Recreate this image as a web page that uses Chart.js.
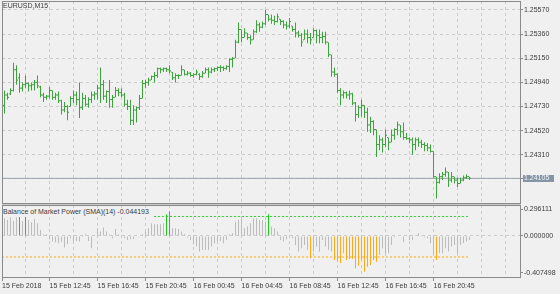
<!DOCTYPE html>
<html lang="en">
<head>
    <meta charset="UTF-8">
    <title>EURUSD,M15</title>
    <script src="https://cdn.jsdelivr.net/npm/chart.js"></script>
    <style>
        body {
            margin: 0;
            width: 560px;
            height: 294px;
            overflow: hidden;
            position: relative;
            background-color: #f0f0f0;
            font-family: "Liberation Sans", Arial, sans-serif;
        }
        canvas {
            position: absolute;
            left: 0;
        }
        #priceChart { top: 0; }
        #bmpChart { top: 204px; }
        .lbl {
            position: absolute;
            font-size: 7px;
            line-height: 8px;
            color: #3c3c3c;
            white-space: nowrap;
        }
        #bmpTitle {
            left: 3px;
            top: 208px;
            height: 8.5px;
            padding-right: 4px;
            background-color: #f0f0f0;
        }
    </style>
</head>
<body>
    <canvas id="priceChart" width="560" height="204"></canvas>
    <canvas id="bmpChart" width="560" height="90"></canvas>
    <div class="lbl" style="left:3px; top:2px;">EURUSD,M15</div>
    <div class="lbl" id="bmpTitle"></div>
    <script>
        // 15분봉 시세 (15 Feb 09:00 부터)
        const highs = [
            1.2487, 1.2485, 1.2489, 1.2511, 1.2509, 1.2502, 1.2494, 1.2500, 1.2494, 1.2494,
            1.2496, 1.2500, 1.2491, 1.2485, 1.2483, 1.2490, 1.2487, 1.2485, 1.2486, 1.2479,
            1.2477, 1.2474, 1.2482, 1.2487, 1.2486, 1.2494, 1.2485, 1.2483, 1.2481, 1.2486,
            1.2486, 1.2492, 1.2507, 1.2496, 1.2487, 1.2496, 1.2483, 1.2490, 1.2489, 1.2489,
            1.2485, 1.2479, 1.2479, 1.2474, 1.2473, 1.2483, 1.2496, 1.2496, 1.2498, 1.2500,
            1.2503, 1.2507, 1.2507, 1.2507, 1.2507, 1.2509, 1.2503, 1.2502, 1.2501, 1.2509,
            1.2505, 1.2504, 1.2503, 1.2502, 1.2505, 1.2502, 1.2504, 1.2507, 1.2507, 1.2507,
            1.2507, 1.2508, 1.2509, 1.2508, 1.2509, 1.2515, 1.2516, 1.2531, 1.2546, 1.2540,
            1.2541, 1.2537, 1.2535, 1.2540, 1.2548, 1.2546, 1.2547, 1.2557, 1.2553, 1.2553,
            1.2552, 1.2554, 1.2549, 1.2548, 1.2547, 1.2550, 1.2543, 1.2546, 1.2539, 1.2537,
            1.2540, 1.2540, 1.2537, 1.2541, 1.2540, 1.2540, 1.2538, 1.2538, 1.2529, 1.2518,
            1.2507, 1.2502, 1.2489, 1.2487, 1.2486, 1.2487, 1.2485, 1.2477, 1.2474, 1.2479,
            1.2474, 1.2472, 1.2464, 1.2461, 1.2453, 1.2448, 1.2446, 1.2453, 1.2446, 1.2453,
            1.2454, 1.2460, 1.2457, 1.2459, 1.2450, 1.2446, 1.2446, 1.2446, 1.2446, 1.2444,
            1.2442, 1.2441, 1.2440, 1.2434, 1.2412, 1.2415, 1.2416, 1.2420, 1.2416, 1.2416,
            1.2412, 1.2411, 1.2411, 1.2413, 1.2414, 1.2412
        ];
        const lows = [
            1.2467, 1.2479, 1.2483, 1.2486, 1.2492, 1.2485, 1.2486, 1.2489, 1.2486, 1.2487,
            1.2487, 1.2489, 1.2481, 1.2477, 1.2479, 1.2480, 1.2479, 1.2479, 1.2476, 1.2466,
            1.2468, 1.2461, 1.2473, 1.2476, 1.2474, 1.2463, 1.2470, 1.2473, 1.2472, 1.2476,
            1.2479, 1.2479, 1.2476, 1.2479, 1.2476, 1.2472, 1.2472, 1.2481, 1.2482, 1.2481,
            1.2473, 1.2470, 1.2457, 1.2457, 1.2459, 1.2470, 1.2480, 1.2489, 1.2491, 1.2496,
            1.2494, 1.2498, 1.2502, 1.2503, 1.2503, 1.2502, 1.2496, 1.2494, 1.2497, 1.2500,
            1.2500, 1.2500, 1.2499, 1.2498, 1.2500, 1.2496, 1.2498, 1.2502, 1.2498, 1.2502,
            1.2503, 1.2504, 1.2503, 1.2504, 1.2505, 1.2503, 1.2507, 1.2515, 1.2528, 1.2529,
            1.2533, 1.2531, 1.2527, 1.2531, 1.2537, 1.2538, 1.2541, 1.2544, 1.2547, 1.2545,
            1.2544, 1.2546, 1.2544, 1.2541, 1.2540, 1.2541, 1.2538, 1.2533, 1.2533, 1.2525,
            1.2531, 1.2528, 1.2527, 1.2533, 1.2528, 1.2528, 1.2528, 1.2527, 1.2516, 1.2499,
            1.2499, 1.2485, 1.2474, 1.2480, 1.2480, 1.2479, 1.2474, 1.2460, 1.2463, 1.2464,
            1.2463, 1.2451, 1.2450, 1.2448, 1.2429, 1.2435, 1.2433, 1.2438, 1.2435, 1.2442,
            1.2444, 1.2448, 1.2446, 1.2444, 1.2444, 1.2441, 1.2431, 1.2435, 1.2438, 1.2437,
            1.2434, 1.2434, 1.2433, 1.2411, 1.2393, 1.2406, 1.2409, 1.2412, 1.2403, 1.2407,
            1.2406, 1.2403, 1.2406, 1.2408, 1.2410, 1.2409
        ];
        const opens = [
            1.2474, 1.2483, 1.2484, 1.2487, 1.2505, 1.2498, 1.2489, 1.2492, 1.2493, 1.2491,
            1.2492, 1.2494, 1.2490, 1.2483, 1.2481, 1.2482, 1.2487, 1.2481, 1.2483, 1.2478,
            1.2470, 1.2473, 1.2473, 1.2480, 1.2483, 1.2479, 1.2472, 1.2480, 1.2475, 1.2479,
            1.2483, 1.2484, 1.2489, 1.2492, 1.2482, 1.2486, 1.2479, 1.2481, 1.2487, 1.2485,
            1.2483, 1.2475, 1.2473, 1.2461, 1.2470, 1.2472, 1.2480, 1.2493, 1.2494, 1.2496,
            1.2499, 1.2500, 1.2506, 1.2505, 1.2506, 1.2505, 1.2503, 1.2498, 1.2500, 1.2500,
            1.2505, 1.2501, 1.2502, 1.2500, 1.2501, 1.2501, 1.2499, 1.2502, 1.2505, 1.2503,
            1.2505, 1.2506, 1.2507, 1.2507, 1.2506, 1.2508, 1.2514, 1.2515, 1.2529, 1.2540,
            1.2533, 1.2537, 1.2533, 1.2531, 1.2538, 1.2544, 1.2542, 1.2545, 1.2553, 1.2549,
            1.2548, 1.2547, 1.2549, 1.2547, 1.2544, 1.2543, 1.2543, 1.2540, 1.2537, 1.2535,
            1.2531, 1.2536, 1.2533, 1.2533, 1.2539, 1.2535, 1.2533, 1.2534, 1.2529, 1.2518,
            1.2503, 1.2501, 1.2487, 1.2483, 1.2485, 1.2483, 1.2484, 1.2476, 1.2466, 1.2472,
            1.2474, 1.2468, 1.2457, 1.2460, 1.2453, 1.2440, 1.2444, 1.2440, 1.2446, 1.2442,
            1.2448, 1.2453, 1.2457, 1.2451, 1.2446, 1.2445, 1.2444, 1.2440, 1.2444, 1.2442,
            1.2440, 1.2439, 1.2437, 1.2434, 1.2412, 1.2407, 1.2412, 1.2414, 1.2416, 1.2409,
            1.2412, 1.2409, 1.2406, 1.2409, 1.2411, 1.2412
        ];
        const closes = [
            1.2483, 1.2481, 1.2487, 1.2505, 1.2496, 1.2489, 1.2492, 1.2493, 1.2491, 1.2492,
            1.2494, 1.2491, 1.2483, 1.2481, 1.2482, 1.2487, 1.2481, 1.2483, 1.2478, 1.2470,
            1.2473, 1.2468, 1.2480, 1.2483, 1.2479, 1.2472, 1.2480, 1.2475, 1.2479, 1.2483,
            1.2484, 1.2489, 1.2492, 1.2482, 1.2486, 1.2479, 1.2481, 1.2487, 1.2485, 1.2483,
            1.2475, 1.2473, 1.2461, 1.2470, 1.2472, 1.2480, 1.2493, 1.2494, 1.2496, 1.2499,
            1.2500, 1.2506, 1.2505, 1.2506, 1.2505, 1.2504, 1.2498, 1.2500, 1.2500, 1.2505,
            1.2501, 1.2502, 1.2500, 1.2501, 1.2503, 1.2499, 1.2502, 1.2505, 1.2503, 1.2505,
            1.2506, 1.2507, 1.2507, 1.2506, 1.2508, 1.2514, 1.2515, 1.2529, 1.2540, 1.2533,
            1.2537, 1.2533, 1.2531, 1.2538, 1.2544, 1.2542, 1.2545, 1.2553, 1.2549, 1.2548,
            1.2547, 1.2551, 1.2547, 1.2544, 1.2543, 1.2547, 1.2540, 1.2537, 1.2535, 1.2529,
            1.2536, 1.2533, 1.2531, 1.2539, 1.2535, 1.2533, 1.2534, 1.2529, 1.2518, 1.2503,
            1.2501, 1.2487, 1.2483, 1.2485, 1.2483, 1.2484, 1.2476, 1.2466, 1.2472, 1.2474,
            1.2468, 1.2457, 1.2460, 1.2453, 1.2440, 1.2444, 1.2440, 1.2448, 1.2442, 1.2448,
            1.2453, 1.2457, 1.2451, 1.2446, 1.2445, 1.2444, 1.2440, 1.2444, 1.2442, 1.2440,
            1.2439, 1.2437, 1.2434, 1.2412, 1.2407, 1.2412, 1.2414, 1.2416, 1.2409, 1.2412,
            1.2409, 1.2406, 1.2409, 1.2411, 1.2412, 1.24105
        ];
        // Balance of Market Power (SMA)(14)
        const bmp = [
            0.195, 0.176, 0.202, 0.165, 0.202, 0.239, 0.165, 0.239, 0.176, 0.150,
            0.187, 0.139, 0.066, 0.018, 0.018, -0.037, -0.062, -0.070, -0.081, -0.070,
            -0.128, -0.092, -0.026, -0.062, -0.055, -0.062, -0.011, 0.018, -0.055, -0.136,
            0.011, 0.084, 0.048, 0.092, 0.048, 0.018, -0.026, 0.077, 0.018, 0.004,
            -0.026, -0.044, -0.037, -0.033, -0.007, 0.004, 0.018, 0.048, 0.084, 0.139,
            0.128, 0.128, 0.128, 0.139, 0.239, 0.268, 0.084, 0.084, 0.077, 0.048,
            0.018, -0.018, -0.044, -0.092, -0.117, -0.172, -0.154, -0.154, -0.154, -0.117,
            -0.081, -0.062, -0.055, -0.081, -0.044, 0.018, 0.029, 0.158, 0.176, 0.213,
            0.084, 0.103, 0.139, 0.195, 0.195, 0.176, 0.176, 0.158, 0.239, 0.103,
            0.084, 0.048, -0.044, -0.062, -0.037, -0.007, -0.026, -0.099, -0.172, -0.136,
            -0.099, -0.154, -0.246, -0.172, -0.117, -0.172, -0.044, -0.117, -0.154, -0.172,
            -0.264, -0.283, -0.301, -0.191, -0.264, -0.253, -0.253, -0.356, -0.327, -0.264,
            -0.393, -0.338, -0.319, -0.264, -0.283, -0.209, -0.136, -0.191, -0.191, -0.099,
            -0.015, -0.007, -0.007, -0.070, -0.007, -0.044, -0.044, 0.011, 0.029, 0.011,
            -0.015, -0.026, -0.081, -0.209, -0.264, -0.191, -0.191, -0.136, -0.172, -0.117,
            -0.099, -0.191, -0.099, -0.081, -0.062, -0.044193
        ];
        const upperLevel = 0.224;
        const lowerLevel = -0.228;

        const priceTicks = [1.25570, 1.25360, 1.25150, 1.24940, 1.24730, 1.24520, 1.24310, 1.24100];
        const bmpTicks = [0.296111, 0, -0.407498];
        const timeTicks = ['15 Feb 2018', '15 Feb 12:45', '15 Feb 16:45', '15 Feb 20:45', '16 Feb 00:45',
                           '16 Feb 04:45', '16 Feb 08:45', '16 Feb 12:45', '16 Feb 16:45', '16 Feb 20:45'];

        // 축 범위
        const priceMax = 1.25648, priceMin = 1.23882;
        const bmpMax = 0.34009, bmpMin = -0.46247;
        const xMin = -5 / 6;          // 봉 하나 = 3px
        const xMax = xMin + 173;

        const barColor = '#3aa53a';
        const gridColor = '#cbcbcb';
        const frameColor = '#8a8a8a';
        const textColor = '#3c3c3c';
        const fontSpec = { family: '"Liberation Sans", Arial, sans-serif', size: 7 };

        const idx = closes.map((_, i) => i);
        const lastClose = closes[closes.length - 1];

        document.getElementById('bmpTitle').textContent =
            'Balance of Market Power (SMA)(14) ' + bmp[bmp.length - 1].toFixed(6);

        function gridTicks(withStart) {
            const t = withStart ? [{ value: xMin }] : [];
            for (let v = 7; v < xMax; v += 8) t.push({ value: v });
            return t;
        }

        function timeLabel(v) {
            if (v === xMin) return timeTicks[0];
            if ((v - 15) % 16 === 0) return timeTicks[(v - 15) / 16 + 1] || '';
            return '';
        }

        function bmpColor(v) {
            if (v > upperLevel) return '#19cc19';
            if (v < lowerLevel) return '#ffa914';
            return '#bcbcbc';
        }

        const framePlugin = {
            id: 'frame',
            afterDraw(chart) {
                const a = chart.chartArea, g = chart.ctx;
                g.save();
                if (chart.canvas.id === 'bmpChart') {
                    g.fillStyle = '#c8c8c8';
                    g.fillRect(a.left, 0, a.right - a.left, 1);
                }
                g.strokeStyle = frameColor;
                g.lineWidth = 1;
                g.strokeRect(a.left + 0.5, a.top + 0.5, a.right - a.left - 1, a.bottom - a.top - 1);
                g.restore();
            }
        };

        // 레벨선 (점선, 마지막 봉까지)
        const levelPlugin = {
            id: 'levels',
            beforeDatasetsDraw(chart) {
                const g = chart.ctx, xs = chart.scales.x, ys = chart.scales.y;
                const x0 = chart.chartArea.left, x1 = xs.getPixelForValue(idx.length - 1);
                const lines = [[upperLevel, '#2fdc2f', 1], [lowerLevel, '#ffcc7a', 2]];
                g.save();
                lines.forEach(([v, color, w]) => {
                    const y = Math.round(ys.getPixelForValue(v)) + (w === 1 ? 0.5 : 0);
                    g.strokeStyle = color;
                    g.lineWidth = w;
                    g.setLineDash([2, 2]);
                    g.beginPath();
                    g.moveTo(x0, y);
                    g.lineTo(x1, y);
                    g.stroke();
                });
                g.restore();
            }
        };

        // 현재가 표시
        const priceTag = {
            id: 'priceTag',
            afterDraw(chart) {
                const g = chart.ctx;
                const y = Math.round(chart.scales.y.getPixelForValue(lastClose));
                const x = chart.chartArea.right;
                g.save();
                g.fillStyle = '#8495a6';
                g.fillRect(x + 2, y - 3, 31, 7);
                g.fillStyle = '#f2f5f8';
                g.font = '7px "Liberation Sans", Arial, sans-serif';
                g.textBaseline = 'middle';
                g.fillText(lastClose.toFixed(5), x + 3, y + 0.5);
                g.restore();
            }
        };

        new Chart(document.getElementById('priceChart'), {
            type: 'bar',
            data: {
                datasets: [{
                    type: 'bar',
                    data: idx.map(i => ({ x: i, y: [lows[i], highs[i]] })),
                    backgroundColor: barColor,
                    barThickness: 1,
                    inflateAmount: 0,
                    borderWidth: 0,
                    order: 1
                }, {
                    type: 'scatter',
                    data: idx.map(i => ({ x: i - 1 / 3, y: opens[i] })),
                    pointStyle: 'line',
                    pointRadius: 0.5,
                    borderColor: barColor,
                    pointBorderColor: barColor,
                    pointBorderWidth: 1,
                    order: 1
                }, {
                    type: 'scatter',
                    data: idx.map(i => ({ x: i + 1 / 3, y: closes[i] })),
                    pointStyle: 'line',
                    pointRadius: 0.5,
                    borderColor: barColor,
                    pointBorderColor: barColor,
                    pointBorderWidth: 1,
                    order: 1
                }, {
                    type: 'line',
                    data: [{ x: xMin, y: lastClose }, { x: xMax, y: lastClose }],
                    borderColor: '#98a2ac',
                    borderWidth: 1,
                    pointRadius: 0,
                    order: 5
                }]
            },
            options: {
                responsive: false,
                animation: false,
                events: [],
                layout: { autoPadding: false, padding: { left: 2, top: 1, right: 0, bottom: 0 } },
                plugins: { legend: { display: false }, tooltip: { enabled: false } },
                scales: {
                    x: {
                        type: 'linear', min: xMin, max: xMax, offset: false,
                        grid: { color: gridColor, drawTicks: false, offset: false },
                        border: { display: false, dash: [3, 3] },
                        ticks: { display: false },
                        afterBuildTicks: s => { s.ticks = gridTicks(false); },
                        afterFit: s => { s.height = 0; s.paddingLeft = 0; s.paddingRight = 0; }
                    },
                    y: {
                        type: 'linear', position: 'right', min: priceMin, max: priceMax, beginAtZero: false,
                        grid: { color: gridColor, tickLength: 2, tickColor: frameColor, tickBorderDash: [] },
                        border: { display: false, dash: [3, 3] },
                        ticks: {
                            color: textColor, font: fontSpec, padding: 1, crossAlign: 'near',
                            callback: v => Math.abs(v - lastClose) < 0.0003 ? '' : v.toFixed(5)
                        },
                        afterBuildTicks: s => { s.ticks = priceTicks.map(v => ({ value: v })); },
                        afterFit: s => { s.width = 39; s.paddingTop = 0; s.paddingBottom = 0; }
                    }
                }
            },
            plugins: [framePlugin, priceTag]
        });

        new Chart(document.getElementById('bmpChart'), {
            type: 'bar',
            data: {
                datasets: [{
                    type: 'bar',
                    data: idx.map(i => ({ x: i, y: bmp[i] })),
                    backgroundColor: c => bmpColor(bmp[c.dataIndex]),
                    barThickness: 1,
                    inflateAmount: 0,
                    borderWidth: 0
                }]
            },
            options: {
                responsive: false,
                animation: false,
                events: [],
                layout: { autoPadding: false, padding: { left: 2, top: 1, right: 0, bottom: 0 } },
                plugins: { legend: { display: false }, tooltip: { enabled: false } },
                scales: {
                    x: {
                        type: 'linear', min: xMin, max: xMax, offset: false,
                        grid: {
                            color: c => c.tick && c.tick.value === xMin ? 'rgba(0,0,0,0)' : gridColor,
                            tickLength: 3,
                            tickColor: c => c.tick && c.tick.label ? frameColor : 'rgba(0,0,0,0)',
                            tickBorderDash: [],
                            offset: false
                        },
                        border: { display: false, dash: [3, 3] },
                        ticks: {
                            color: textColor, font: fontSpec, padding: 1, align: 'start',
                            autoSkip: false, maxRotation: 0, minRotation: 0,
                            callback: v => timeLabel(v)
                        },
                        afterBuildTicks: s => { s.ticks = gridTicks(true); },
                        afterFit: s => { s.height = 16; s.paddingLeft = 0; s.paddingRight = 0; }
                    },
                    y: {
                        type: 'linear', position: 'right', min: bmpMin, max: bmpMax, beginAtZero: false,
                        grid: {
                            color: c => c.tick && c.tick.value === 0 ? gridColor : 'rgba(0,0,0,0)',
                            tickLength: 2, tickColor: frameColor, tickBorderDash: []
                        },
                        border: { display: false, dash: [3, 3] },
                        ticks: { color: textColor, font: fontSpec, padding: 1, crossAlign: 'near', callback: v => v.toFixed(6) },
                        afterBuildTicks: s => { s.ticks = bmpTicks.map(v => ({ value: v })); },
                        afterFit: s => { s.width = 39; s.paddingTop = 0; s.paddingBottom = 0; }
                    }
                }
            },
            plugins: [framePlugin, levelPlugin]
        });
    </script>
</body>
</html>
